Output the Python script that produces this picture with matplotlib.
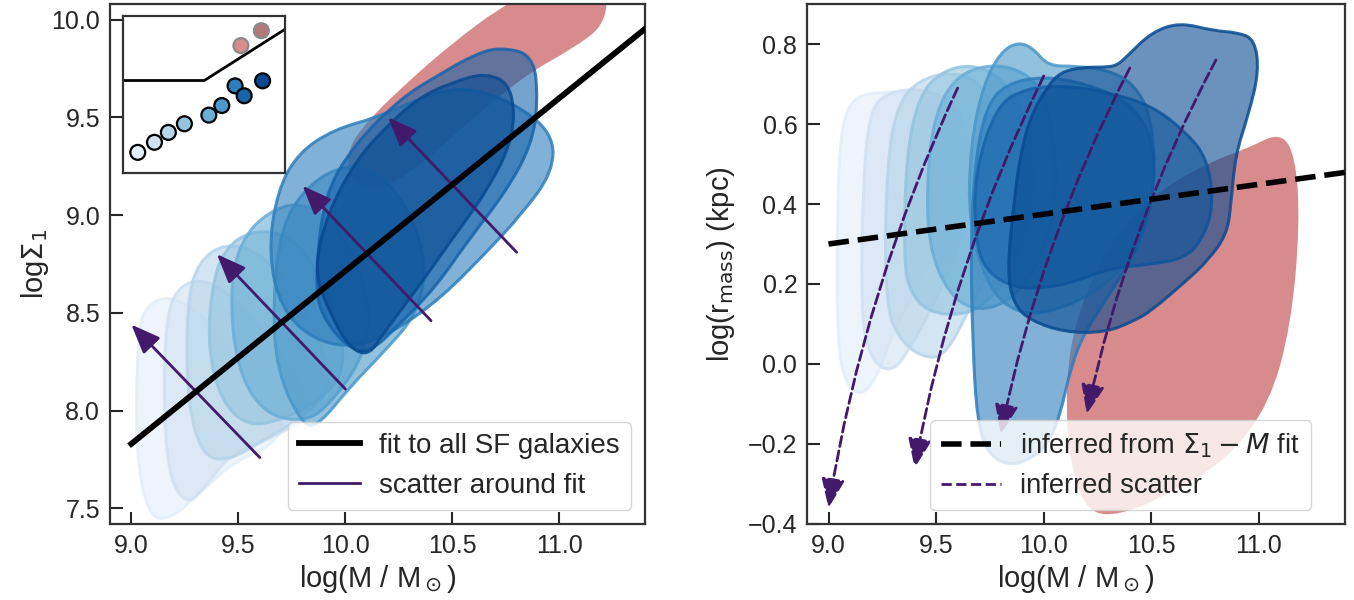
import numpy as np
import matplotlib
matplotlib.use("Agg")
import matplotlib.pyplot as plt
from matplotlib.path import Path
from matplotlib.patches import PathPatch
from matplotlib.lines import Line2D

# ---------------- data ----------------
# left panel: fit line and scatter arrows
fit_mass = [9.0, 11.6]
fit_sigma = [7.83, 10.13]
arrow_tail_mass = [9.6, 10.0, 10.4, 10.8]
arrow_tail_sigma = [7.76, 8.11, 8.46, 8.81]
arrow_head_mass = [9.0, 9.4, 9.8, 10.2]
arrow_head_sigma = [8.44, 8.80, 9.15, 9.50]

# right panel: inferred line and inferred scatter arrows
rfit_mass = [9.0, 11.6]
rfit_logr = [0.30, 0.494]
rarrow_start_mass = [9.6, 10.0, 10.4, 10.8]
rarrow_start_logr = [0.69, 0.72, 0.74, 0.76]
rarrow_end_mass = [9.0, 9.4, 9.8, 10.2]
rarrow_end_logr = [-0.36, -0.26, -0.175, -0.125]

# contour outlines, left panel (mass, logSigma1), lightest -> darkest
left_blobs_mass = [
    [9.03, 9.07, 9.18, 9.32, 9.46, 9.60, 9.72, 9.66, 9.48, 9.32, 9.18, 9.08, 9.02],
    [9.16, 9.21, 9.34, 9.50, 9.65, 9.78, 9.84, 9.68, 9.46, 9.34, 9.26, 9.18, 9.15],
    [9.26, 9.31, 9.44, 9.60, 9.76, 9.88, 9.94, 9.82, 9.62, 9.45, 9.33, 9.26],
    [9.37, 9.43, 9.58, 9.75, 9.87, 9.97, 10.00, 9.88, 9.70, 9.54, 9.42, 9.36],
    [9.46, 9.51, 9.64, 9.80, 9.96, 10.07, 10.12, 10.07, 9.94, 9.82, 9.62, 9.49],
    [9.66, 9.70, 9.83, 10.00, 10.16, 10.30, 10.38, 10.34, 10.18, 10.02, 9.88, 9.80, 9.68],
    [9.64, 9.68, 9.78, 9.95, 10.15, 10.35, 10.55, 10.78, 10.97, 10.97, 10.82, 10.65, 10.45,
     10.25, 10.05, 9.85, 9.70],
    [9.86, 9.90, 10.04, 10.26, 10.44, 10.60, 10.72, 10.88, 10.90, 10.87, 10.75, 10.58,
     10.42, 10.26, 10.11, 10.00, 9.88],
    [9.85, 9.92, 10.05, 10.18, 10.34, 10.50, 10.66, 10.78, 10.79, 10.66, 10.50, 10.34,
     10.18, 10.11, 10.02, 9.93],
]
left_blobs_sigma = [
    [8.40, 8.54, 8.59, 8.50, 8.32, 8.12, 7.95, 7.82, 7.74, 7.58, 7.44, 7.46, 7.78],
    [8.45, 8.63, 8.68, 8.56, 8.36, 8.16, 7.98, 7.87, 7.78, 7.60, 7.52, 7.64, 8.00],
    [8.55, 8.76, 8.86, 8.81, 8.62, 8.36, 8.12, 7.98, 7.85, 7.74, 7.77, 8.05],
    [8.60, 8.83, 8.93, 8.89, 8.72, 8.46, 8.20, 8.05, 7.95, 7.92, 8.05, 8.30],
    [8.62, 8.87, 9.02, 9.07, 8.94, 8.72, 8.46, 8.25, 8.05, 7.94, 7.98, 8.22],
    [8.55, 8.95, 9.16, 9.26, 9.22, 9.02, 8.76, 8.50, 8.30, 8.12, 7.93, 7.92, 8.20],
    [8.80, 9.12, 9.32, 9.44, 9.50, 9.60, 9.66, 9.58, 9.42, 9.22, 9.00, 8.80, 8.58,
     8.42, 8.32, 8.36, 8.52],
    [8.68, 9.10, 9.36, 9.60, 9.72, 9.82, 9.86, 9.82, 9.58, 9.36, 9.12, 8.88, 8.63,
     8.45, 8.29, 8.33, 8.50],
    [8.72, 9.02, 9.28, 9.44, 9.60, 9.68, 9.73, 9.66, 9.40, 9.12, 8.88, 8.63, 8.40,
     8.28, 8.32, 8.49],
]
left_red_mass = [10.00, 10.10, 10.30, 10.50, 10.72, 10.95, 11.22, 11.22, 11.06,
                 10.86, 10.62, 10.40, 10.20, 10.04]
left_red_sigma = [9.32, 9.48, 9.69, 9.88, 10.06, 10.20, 10.20, 9.98, 9.85,
                  9.73, 9.52, 9.30, 9.14, 9.14]

# contour outlines, right panel (mass, log r_mass), lightest -> darkest
right_blobs_mass = [
    [9.04, 9.04, 9.06, 9.12, 9.25, 9.40, 9.52, 9.58, 9.52, 9.40, 9.30, 9.22, 9.15, 9.08],
    [9.15, 9.16, 9.19, 9.27, 9.45, 9.62, 9.68, 9.60, 9.48, 9.38, 9.30, 9.21],
    [9.26, 9.27, 9.32, 9.42, 9.56, 9.70, 9.80, 9.83, 9.76, 9.64, 9.55, 9.47, 9.34],
    [9.35, 9.36, 9.42, 9.52, 9.66, 9.80, 9.92, 9.96, 9.90, 9.76, 9.62, 9.46, 9.38],
    [9.46, 9.46, 9.50, 9.58, 9.70, 9.85, 9.98, 10.05, 10.06, 9.98, 9.85, 9.70, 9.56],
    [9.65, 9.66, 9.72, 9.80, 9.88, 9.95, 10.02, 10.15, 10.30, 10.42, 10.50, 10.52,
     10.45, 10.30, 10.10, 9.90, 9.75],
    [9.67, 9.66, 9.68, 9.73, 9.82, 10.00, 10.20, 10.38, 10.50, 10.52, 10.45, 10.30,
     10.18, 10.12, 10.08, 10.03, 9.95, 9.84, 9.74, 9.69],
    [9.68, 9.78, 9.92, 10.10, 10.29, 10.50, 10.66, 10.76, 10.79, 10.74, 10.66, 10.50,
     10.31, 10.15, 10.02, 9.86, 9.73, 9.68],
    [9.83, 9.86, 9.94, 10.10, 10.29, 10.42, 10.50, 10.66, 10.76, 10.85, 10.87, 10.89,
     10.95, 11.00, 10.98, 10.90, 10.79, 10.63, 10.50, 10.39, 10.34, 10.28, 10.18,
     10.08, 10.02, 9.94, 9.89, 9.86],
]
right_blobs_logr = [
    [0.05, 0.40, 0.60, 0.67, 0.68, 0.68, 0.64, 0.48, 0.30, 0.18, 0.08, -0.04, -0.08, -0.05],
    [0.10, 0.45, 0.63, 0.68, 0.69, 0.64, 0.45, 0.28, 0.14, 0.04, -0.02, 0.00],
    [0.15, 0.50, 0.65, 0.71, 0.73, 0.71, 0.60, 0.42, 0.25, 0.12, 0.03, 0.01, 0.05],
    [0.25, 0.52, 0.67, 0.73, 0.75, 0.72, 0.62, 0.45, 0.28, 0.16, 0.12, 0.13, 0.18],
    [0.30, 0.50, 0.63, 0.71, 0.745, 0.745, 0.70, 0.58, 0.40, 0.25, 0.16, 0.13, 0.17],
    [0.35, 0.55, 0.70, 0.78, 0.805, 0.79, 0.745, 0.745, 0.735, 0.70, 0.62, 0.45,
     0.30, 0.20, 0.14, 0.12, 0.18],
    [0.05, 0.30, 0.50, 0.64, 0.70, 0.72, 0.70, 0.66, 0.58, 0.45, 0.30, 0.17,
     0.07, -0.02, -0.12, -0.19, -0.235, -0.255, -0.225, -0.14],
    [0.48, 0.647, 0.69, 0.696, 0.68, 0.647, 0.58, 0.514, 0.398, 0.315, 0.265, 0.249,
     0.24, 0.207, 0.19, 0.19, 0.232, 0.315],
    [0.232, 0.149, 0.108, 0.079, 0.079, 0.108, 0.133, 0.207, 0.257, 0.323, 0.398, 0.522,
     0.622, 0.73, 0.812, 0.829, 0.833, 0.854, 0.829, 0.771, 0.746, 0.742, 0.742,
     0.73, 0.696, 0.622, 0.522, 0.398],
]
right_red_mass = [10.12, 10.20, 10.35, 10.60, 10.85, 11.05, 11.15, 11.19, 11.17,
                  11.10, 10.95, 10.75, 10.50, 10.30, 10.15, 10.10]
right_red_logr = [-0.25, -0.37, -0.38, -0.32, -0.24, -0.10, 0.10, 0.35, 0.52,
                  0.58, 0.54, 0.50, 0.42, 0.30, 0.12, -0.05]

# inset (axes-fraction positions)
inset_blue_x = [0.089, 0.192, 0.278, 0.377, 0.528, 0.608, 0.690, 0.746, 0.860]
inset_blue_y = [0.131, 0.195, 0.258, 0.313, 0.368, 0.429, 0.554, 0.491, 0.586]
inset_red_x = [0.726, 0.852]
inset_red_y = [0.810, 0.905]
inset_line_x = [0.0, 0.50, 1.0]
inset_line_y = [0.588, 0.588, 0.915]

# ---------------- style ----------------
plt.rcParams['font.family'] = ['Liberation Sans', 'DejaVu Sans']
plt.rcParams['text.color'] = '.15'
plt.rcParams['axes.labelcolor'] = '.15'
plt.rcParams['xtick.color'] = '.15'
plt.rcParams['ytick.color'] = '.15'
plt.rcParams['axes.edgecolor'] = '.2'

PURPLE = '#43196b'
blues = plt.cm.Blues(np.linspace(0.1, 0.9, 9))
RED = '#d88b8c'
HEAD = '-|>,head_length=0.85,head_width=0.34'


def smooth_path(xs, ys):
    P = np.column_stack([xs, ys])
    M = (P + np.roll(P, -1, axis=0)) / 2.0
    verts = [M[-1]]
    codes = [Path.MOVETO]
    for i in range(len(P)):
        verts += [P[i], M[i]]
        codes += [Path.CURVE3, Path.CURVE3]
    verts.append(M[-1])
    codes.append(Path.CLOSEPOLY)
    return Path(verts, codes)


def draw_blobs(ax, mass_lists, y_lists, red_m, red_y):
    ax.add_patch(PathPatch(smooth_path(red_m, red_y), facecolor=RED,
                           edgecolor='none', zorder=1))
    for i, (m, y) in enumerate(zip(mass_lists, y_lists)):
        c = blues[i]
        ax.add_patch(PathPatch(smooth_path(m, y),
                               facecolor=(c[0], c[1], c[2], 0.6),
                               edgecolor=(c[0], c[1], c[2], 0.85),
                               lw=2.2, zorder=2 + i))


def style_axes(ax):
    for s in ax.spines.values():
        s.set_linewidth(1.6)
    ax.tick_params(direction='in', length=9, width=1.5, labelsize=18, pad=7,
                   top=False, right=False)


fig = plt.figure(figsize=(13.54, 6.0), dpi=100)
ax1 = fig.add_axes([0.0812, 0.1267, 0.3952, 0.8666])
ax2 = fig.add_axes([0.5960, 0.1267, 0.3974, 0.8666])

# ---------------- left panel ----------------
draw_blobs(ax1, left_blobs_mass, left_blobs_sigma, left_red_mass, left_red_sigma)
for tm, ts, hm, hs in zip(arrow_tail_mass, arrow_tail_sigma, arrow_head_mass, arrow_head_sigma):
    ax1.annotate('', xy=(hm, hs), xytext=(tm, ts),
                 arrowprops=dict(arrowstyle=HEAD, color=PURPLE, lw=2,
                                 mutation_scale=21, shrinkA=0, shrinkB=0), zorder=20)
ax1.plot(fit_mass, fit_sigma, color='black', lw=4.2, zorder=21)
ax1.set_xlim(8.9, 11.4)
ax1.set_ylim(7.42, 10.08)
ax1.set_xticks([9.0, 9.5, 10.0, 10.5, 11.0])
ax1.set_yticks([7.5, 8.0, 8.5, 9.0, 9.5, 10.0])
ax1.set_xlabel(r'log(M / M$_\odot$)', fontsize=21, labelpad=4)
ax1.set_ylabel(r'log$\Sigma_1$', fontsize=21, labelpad=0)
style_axes(ax1)
h1 = [Line2D([], [], color='black', lw=4.2), Line2D([], [], color=PURPLE, lw=2)]
leg1 = ax1.legend(h1, ['fit to all SF galaxies', 'scatter around fit'],
                  loc='lower right', fontsize=20, handlelength=2.2,
                  handletextpad=0.7, borderaxespad=0.5, bbox_to_anchor=(1.0, 0.0))
leg1.set_zorder(50)

# inset
axin = fig.add_axes([0.0911, 0.7117, 0.1196, 0.2621])
axin.plot(inset_line_x, inset_line_y, color='black', lw=2)
axin.scatter(inset_blue_x, inset_blue_y, s=115, c=blues, edgecolors='black',
             linewidths=1.6, zorder=3)
axin.scatter(inset_red_x, inset_red_y, s=115, c=['#d98c8c', '#b47878'],
             edgecolors='#8a8a8a', linewidths=1.6, zorder=3)
axin.set_xlim(0, 1)
axin.set_ylim(0, 1)
axin.set_xticks([])
axin.set_yticks([])
for s in axin.spines.values():
    s.set_linewidth(1.6)

# ---------------- right panel ----------------
draw_blobs(ax2, right_blobs_mass, right_blobs_logr, right_red_mass, right_red_logr)
for sm, sr, em, er in zip(rarrow_start_mass, rarrow_start_logr, rarrow_end_mass, rarrow_end_logr):
    ax2.annotate('', xy=(em, er), xytext=(sm, sr),
                 arrowprops=dict(arrowstyle=HEAD, color=PURPLE, lw=2, ls='--',
                                 mutation_scale=21, shrinkA=0, shrinkB=0,
                                 connectionstyle='arc3,rad=0.07'), zorder=20)
ax2.plot(rfit_mass, rfit_logr, color='black', lw=4, ls='--', zorder=21)
ax2.set_xlim(8.9, 11.4)
ax2.set_ylim(-0.4, 0.9)
ax2.set_xticks([9.0, 9.5, 10.0, 10.5, 11.0])
ax2.set_yticks([-0.4, -0.2, 0.0, 0.2, 0.4, 0.6, 0.8])
ax2.set_xlabel(r'log(M / M$_\odot$)', fontsize=21, labelpad=4)
ax2.set_ylabel(r'log(r$_{\rm mass}$) (kpc)', fontsize=21, labelpad=8)
style_axes(ax2)
h2 = [Line2D([], [], color='black', lw=4, ls='--'),
      Line2D([], [], color=PURPLE, lw=2, ls='--')]
leg2 = ax2.legend(h2, [r'inferred from $\Sigma_1-M$ fit', 'inferred scatter'],
                  loc='lower right', fontsize=19.6, handlelength=2.2,
                  handletextpad=0.7, borderaxespad=0.5, bbox_to_anchor=(0.962, 0.0))
leg2.set_zorder(50)

fig.savefig('out.png', dpi=100)
